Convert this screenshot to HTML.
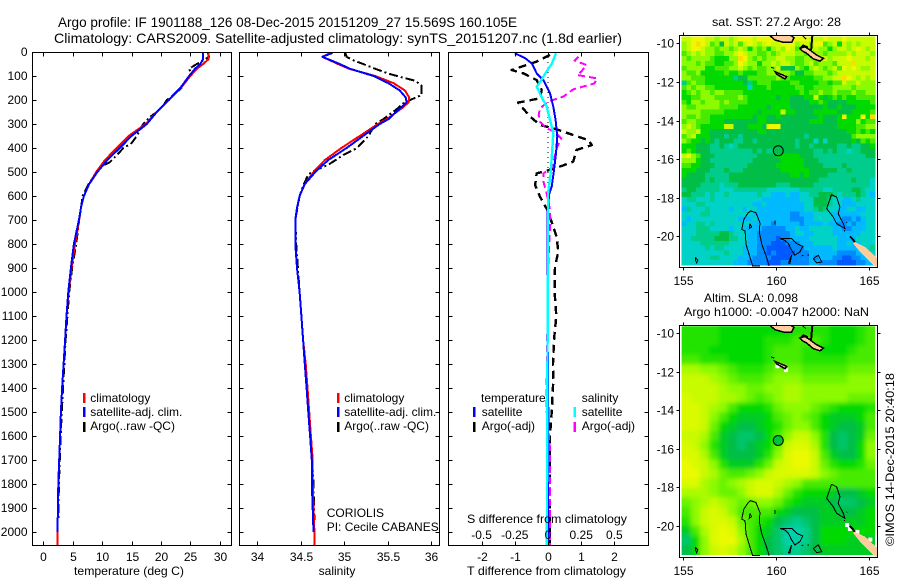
<!DOCTYPE html>
<html>
<head>
<meta charset="utf-8">
<title>Argo profile</title>
<style>
html,body{margin:0;padding:0;background:#fff;width:900px;height:580px;overflow:hidden}
svg{display:block}
text{font-family:"Liberation Sans",sans-serif;font-size:12px;fill:#000}
.title{font-size:14px}
.frame{fill:none;stroke:#000;stroke-width:1;shape-rendering:crispEdges}
.tick{stroke:#000;stroke-width:1;shape-rendering:crispEdges}
.curve{fill:none;stroke-linejoin:round;shape-rendering:crispEdges}
</style>
</head>
<body>
<svg id="chart" xmlns="http://www.w3.org/2000/svg" width="900" height="580" viewBox="0 0 900 580">
<defs>
<clipPath id="clip-temp"><rect x="32.5" y="52.5" width="199" height="493"/></clipPath>
<clipPath id="clip-sal"><rect x="239.5" y="52.5" width="200" height="493"/></clipPath>
<clipPath id="clip-diff"><rect x="448.5" y="52.5" width="200" height="493"/></clipPath>
<clipPath id="clip-sst"><rect x="680" y="35.5" width="197" height="231"/></clipPath>
<clipPath id="clip-sla"><rect x="680" y="325.5" width="197" height="231"/></clipPath>
<clipPath id="clip-sla-cells"><rect x="681.7" y="326" width="193.3" height="229"/></clipPath>
<filter id="soft" x="-5%" y="-5%" width="110%" height="110%"><feGaussianBlur stdDeviation="2.5"/></filter>
</defs>

<text class="title" x="58" y="27" textLength="459" lengthAdjust="spacingAndGlyphs">Argo profile: IF 1901188_126 08-Dec-2015 20151209_27 15.569S 160.105E</text>
<text class="title" x="54" y="43" textLength="568" lengthAdjust="spacingAndGlyphs">Climatology: CARS2009. Satellite-adjusted climatology: synTS_20151207.nc (1.8d earlier)</text>

<g id="panel-temp"></g>
<g id="panel-sal"></g>
<g id="panel-diff"></g>
<g id="map-sst"></g>
<g id="map-sla"></g>

<text x="74" y="575" textLength="110" lengthAdjust="spacingAndGlyphs">temperature (deg C)</text>
<text x="337" y="575" text-anchor="middle">salinity</text>
<text x="467" y="575" textLength="159" lengthAdjust="spacingAndGlyphs">T difference from climatology</text>
<text x="467" y="523" textLength="160" lengthAdjust="spacingAndGlyphs">S difference from climatology</text>

<g>
<rect x="83" y="393" width="2.5" height="10" fill="#f00"/>
<text x="90.3" y="402">climatology</text>
<rect x="83" y="407" width="2.5" height="10" fill="#00f"/>
<text x="90.3" y="416">satellite-adj. clim.</text>
<rect x="83" y="422" width="2.5" height="10" fill="#000"/>
<text x="90.3" y="430">Argo(..raw -QC)</text>
</g>
<g>
<rect x="337" y="393" width="2.5" height="10" fill="#f00"/>
<text x="344.3" y="402">climatology</text>
<rect x="337" y="407" width="2.5" height="10" fill="#00f"/>
<text x="344.3" y="416">satellite-adj. clim.</text>
<rect x="337" y="422" width="2.5" height="10" fill="#000"/>
<text x="344.3" y="430">Argo(..raw -QC)</text>
</g>
<text x="326.7" y="517">CORIOLIS</text>
<text x="326.7" y="531">PI: Cecile CABANES</text>
<g>
<text x="481" y="402">temperature</text>
<rect x="473" y="407" width="2.5" height="10" fill="#00f"/>
<text x="481.7" y="416">satellite</text>
<rect x="473" y="422" width="2.5" height="10" fill="#000"/>
<text x="481.7" y="430">Argo(-adj)</text>
<text x="581.7" y="402">salinity</text>
<rect x="573.5" y="407" width="2.5" height="10" fill="#0ff"/>
<text x="581.7" y="416">satellite</text>
<rect x="573.5" y="422" width="2.5" height="10" fill="#f0f"/>
<text x="581.7" y="430">Argo(-adj)</text>
</g>

<text x="712" y="26" textLength="129" lengthAdjust="spacingAndGlyphs">sat. SST: 27.2 Argo: 28</text>
<text x="704" y="302" textLength="94" lengthAdjust="spacingAndGlyphs">Altim. SLA: 0.098</text>
<text x="684" y="316" textLength="185" lengthAdjust="spacingAndGlyphs">Argo h1000: -0.0047 h2000: NaN</text>
<text transform="translate(894,546) rotate(-90)" textLength="173" lengthAdjust="spacingAndGlyphs">©IMOS 14-Dec-2015 20:40:18</text>
</svg>

<script>
// ---------- profile data ----------
const depthTicks = [0,100,200,300,400,500,600,700,800,900,1000,1100,1200,1300,1400,1500,1600,1700,1800,1900,2000];
const tempTicks = [0,5,10,15,20,25,30];
const salTicks = [34,34.5,35,35.5,36];
const salTickLabels = ['34','34.5','35','35.5','36'];
const diffTTicks = [-2,-1,0,1,2];
const diffTLabels = ['-2','-1','0','1','2'];
const diffSTicks = [-0.5,-0.25,0,0.25,0.5];
const diffSLabels = ['-0.5','-0.25','0','0.25','0.5'];

const climDepth = [0,30,50,70,100,150,200,250,300,350,400,450,500,550,600,650,700,800,900,1000,1100,1200,1300,1400,1500,1600,1700,1800,1900,2000,2054];
const tempClim = [28.1,28.1,27.2,26.1,25,23.4,21.4,19.3,17.4,14.5,12.5,10.5,9,7.8,6.9,6.4,6.1,5.4,4.8,4.3,3.95,3.7,3.45,3.2,3,2.85,2.7,2.55,2.5,2.4,2.4];
const tempSat = [27.2,27.2,26.7,25.8,24.8,23.3,21.3,19.3,17.6,15,13,10.9,9.2,7.8,6.9,6.4,6.05,5.2,4.7,4.25,3.95,3.7,3.45,3.2,3,2.85,2.7,2.55,2.5,2.4,2.4];
const argoTempDepth = [0,20,30,50,70,90,100,130,150,180,200,220,250,270,300,350,380,400,430,460,480,500,550,600,700,800,900,1000,1200,1400,1600,1800,1950];
const tempArgo = [27.9,28.2,27.5,26.1,24.8,25.2,25,23.9,23.5,22.1,21,20.5,19.3,18.2,17,15.9,15,13.6,12.5,11.3,9.6,9.1,7.7,6.7,6.1,5.6,4.9,4.4,3.8,3.35,2.95,2.65,2.55];

const salDepth = [0,5,20,50,70,100,130,160,190,210,230,280,300,350,400,450,500,550,600,650,700,800,900,1000,1100,1200,1300,1400,1500,1600,1700,1800,1900,2000,2054];
const salClim = [34.84,34.84,34.75,34.93,35.06,35.36,35.57,35.7,35.75,35.74,35.68,35.49,35.39,35.18,34.97,34.78,34.65,34.55,34.49,34.46,34.44,34.44,34.46,34.49,34.51,34.53,34.56,34.58,34.6,34.62,34.64,34.64,34.65,34.66,34.66];
const salSat = [34.86,34.86,34.75,34.95,35.07,35.34,35.51,35.64,35.71,35.72,35.66,35.51,35.41,35.22,35.03,34.82,34.67,34.55,34.49,34.46,34.44,34.44,34.46,34.49,34.51,34.53,34.55,34.57,34.59,34.61,34.63,34.63,34.64,34.65,34.65];
const argoSalDepth = [0,20,35,50,70,90,105,120,140,180,200,215,240,280,300,350,400,430,470,490,510,550,600,700,800,900,1000,1200,1400,1600,1800,1950];
const salArgo = [35.01,35.03,35.11,35.22,35.36,35.51,35.66,35.82,35.89,35.89,35.76,35.68,35.6,35.45,35.36,35.28,35.15,34.99,34.82,34.69,34.59,34.54,34.49,34.44,34.45,34.47,34.49,34.53,34.58,34.62,34.65,34.66];

const diffTSatDepth = [5,26,47,89,117,172,228,283,353,422,492,561,589,672,880,1040,1500,2054];
const diffTSat = [-1,-0.69,-0.49,-0.34,-0.14,0.06,0.16,0.23,0.28,0.24,0.18,0.11,0.04,-0.02,-0.02,-0.02,0.01,0];
const diffSSatDepth = [5,47,89,117,144,186,228,283,339,422,505,589,672,900,1400,2054];
const diffSSat = [0.06,0.03,-0.02,-0.05,-0.085,-0.05,-0.01,0.015,0.04,0.03,0.02,0,0,0,-0.005,-0.008];
const diffTArgoDepth = [12,40,75,89,117,158,193,211,269,304,318,346,367,388,408,457,485,506,554,603,658,728,769,832,894,1000,1100,1200,1300,1367,1500,1600,1700,2054];
const diffTArgo = [0.06,-0.34,-1.1,-0.74,-0.34,-0.19,-0.24,-0.9,-0.54,-0.24,0.16,0.76,1.22,1.32,0.86,0.76,0.21,-0.34,-0.39,-0.24,-0.02,0.16,0.26,0.31,0.21,0.2,0.25,0.18,0.15,0.16,0.11,0.06,0.06,0.06];
const diffSArgoDepth = [19,36,54,82,96,110,131,156,186,207,235,262,290,318,332,360,401,436,478,506,540,589,658,742,908,1367,1500,1650,2054];
const diffSArgo = [0.23,0.2,0.29,0.25,0.22,0.37,0.35,0.19,0.115,0,-0.06,-0.07,-0.06,-0.01,0.05,0.1,0.065,0.05,0.04,-0.035,-0.035,-0.01,0.015,0.015,0,-0.01,-0.01,0.015,0.015];

// ---------- map data (colour-scale level, north to south) ----------
const lonTicks = [155,160,165];
const latTicks = [-10,-12,-14,-16,-18,-20];
const sstCells = [
[9,9,10,10,10,9,9,8,9,9,8,9,10,10,10,9,10,10,10,10,10,10,10,10,10,10,10,9,9,9,10,9,9,9,10,9,9,9,9,9,9],
[8,9,10,11,10,9,7,8,5,9,8,9,7,9,10,9,8,9,10,9,9,10,10,10,8,9,9,8,10,10,7,8,9,6,9,8,9,8,9,9,9],
[8,9,10,10,9,8,8,7,8,8,7,8,9,8,6,8,7,8,6,8,9,8,10,9,7,8,8,8,9,8,8,6,8,9,9,8,9,10,9,8,9],
[7,8,9,8,9,8,8,7,7,8,8,9,10,9,8,8,7,7,8,7,8,9,9,9,8,8,7,8,8,8,7,8,8,8,8,9,8,9,9,9,8],
[8,7,8,8,8,8,7,6,6,6,8,8,11,10,8,7,8,7,8,8,9,9,8,8,7,7,8,8,8,9,9,8,9,9,9,10,9,9,9,8,9],
[8,8,8,7,8,7,7,6,6,7,7,8,10,9,8,8,6,8,8,9,8,9,9,8,7,7,8,9,7,8,8,8,7,9,9,9,11,9,9,9,9],
[7,8,8,8,8,6,6,7,7,7,8,8,9,8,7,8,7,7,8,8,9,5,5,5,8,7,6,8,9,8,7,8,9,7,10,9,10,9,8,8,9],
[8,7,7,8,6,6,6,6,6,7,6,6,7,6,6,6,7,7,8,8,8,8,8,7,5,5,7,7,8,8,8,7,8,9,9,9,9,9,9,9,9],
[8,8,7,7,7,6,6,6,6,6,6,4,5,5,7,7,7,7,7,7,8,7,7,6,6,6,6,6,7,7,8,8,9,9,11,10,9,8,9,8,9],
[4,7,8,7,7,6,6,6,6,6,6,6,6,5,4,6,7,7,7,6,6,6,6,7,7,6,6,6,6,7,7,6,7,7,9,8,8,9,8,8,8],
[7,8,7,8,8,7,7,6,6,6,6,6,6,6,3,6,6,6,7,6,6,6,6,6,7,7,6,6,7,7,7,7,8,8,8,8,7,8,8,8,8],
[6,7,8,7,8,8,7,8,8,7,7,7,7,6,6,6,6,6,6,6,6,6,6,6,6,7,6,7,7,8,7,7,8,7,7,7,8,7,7,8,8],
[6,6,7,7,8,8,8,7,7,7,7,7,8,7,6,6,6,6,6,6,5,6,6,5,5,5,6,6,9,6,5,6,7,6,7,6,6,7,7,7,7],
[7,6,8,8,7,8,8,8,7,8,7,7,7,7,6,6,6,6,6,6,6,6,6,5,5,5,5,6,6,7,6,5,5,5,5,6,6,6,6,6,7],
[8,7,7,8,8,8,8,8,7,7,7,7,6,6,6,6,6,6,5,6,6,6,6,5,5,5,5,5,5,5,6,5,5,6,5,5,5,6,6,6,6],
[8,8,8,8,7,7,7,7,7,6,6,6,6,6,6,6,5,6,6,6,6,9,6,6,5,5,5,5,6,6,6,6,6,5,5,5,6,6,6,6,7],
[8,7,7,8,7,7,6,6,6,6,6,6,6,6,6,5,6,6,5,5,6,5,5,5,5,5,5,5,5,6,5,5,5,6,10,6,6,6,10,6,11],
[7,8,8,7,7,7,6,6,6,5,5,5,5,5,5,5,6,6,5,5,5,5,5,5,5,5,5,6,6,6,5,5,5,6,6,6,6,8,6,7,7],
[8,9,8,7,6,6,6,6,6,9,9,5,5,5,6,6,6,5,10,10,10,5,5,5,5,5,5,5,5,5,5,5,5,6,6,6,6,7,7,8,8],
[9,8,8,9,6,6,5,5,5,5,5,5,5,5,5,5,6,6,5,5,5,5,5,5,5,5,5,5,5,5,5,5,5,5,5,6,6,7,6,7,6],
[7,8,9,6,6,6,5,5,5,4,5,5,4,5,5,5,5,5,5,5,5,5,5,5,5,5,4,5,5,5,5,5,5,5,5,5,7,8,8,8,8],
[8,7,6,6,5,6,5,4,5,5,5,4,4,5,5,4,5,5,5,5,5,5,5,5,4,5,5,5,3,5,3,5,5,5,5,5,6,5,7,6,7],
[6,6,6,5,5,5,4,4,5,4,3,4,5,5,5,5,5,5,5,5,5,5,5,5,4,5,5,4,5,5,5,5,5,4,4,5,4,4,5,5,6],
[6,7,6,5,5,5,4,4,4,4,4,4,4,4,4,5,4,5,4,4,5,5,5,5,5,5,5,5,4,4,5,4,5,4,4,3,4,4,5,5,5],
[9,10,8,7,5,5,5,4,4,4,4,4,4,4,4,4,5,5,5,5,6,6,6,6,6,5,5,5,4,4,4,4,4,4,4,4,4,4,4,5,5],
[8,8,8,6,5,5,4,4,4,4,4,4,4,4,4,5,5,5,5,5,5,6,6,6,6,6,5,5,5,4,4,4,4,4,4,4,4,4,4,4,4],
[7,7,6,6,5,5,5,4,4,4,4,4,4,4,5,5,5,5,5,5,6,6,6,6,6,6,5,5,5,5,4,4,4,4,5,4,4,4,4,4,4],
[6,6,6,5,5,5,4,4,4,5,4,4,4,5,5,5,5,5,5,5,5,6,6,6,6,6,6,5,5,5,5,5,5,4,4,5,4,4,4,4,4],
[6,5,5,5,5,4,4,4,4,4,5,5,5,5,5,5,5,5,5,5,5,5,5,6,6,5,6,5,5,5,5,4,4,4,4,4,4,4,4,4,4],
[5,5,5,5,5,4,5,4,4,4,5,5,5,5,5,5,5,5,5,5,5,5,5,5,5,5,5,5,5,4,4,4,4,4,4,4,5,4,4,4,3],
[5,5,5,5,4,4,4,4,3,4,4,4,5,5,5,5,5,5,5,5,4,4,4,5,5,5,5,5,4,4,4,4,4,4,4,4,4,4,4,4,3],
[4,5,5,4,4,4,4,4,3,3,3,4,4,4,4,4,4,4,3,3,3,3,3,3,3,4,4,4,4,4,3,3,4,4,4,4,5,5,4,3,3],
[5,5,4,4,4,3,4,3,3,4,3,3,3,3,3,3,4,3,3,2,2,2,3,2,2,3,3,4,4,5,5,5,4,3,4,4,4,5,4,3,2],
[3,4,4,3,3,3,4,3,3,3,3,3,3,3,3,3,3,2,2,2,2,2,2,2,2,3,3,3,5,5,5,4,3,3,2,2,3,4,3,3,3],
[3,3,3,4,4,3,3,3,3,3,3,3,3,3,3,2,2,3,2,2,2,2,2,2,2,2,3,3,5,5,5,4,3,3,2,2,2,3,3,3,3],
[2,4,3,3,3,4,3,3,3,3,2,3,3,2,3,3,2,2,2,2,2,2,2,2,2,2,3,3,4,5,4,3,3,2,2,3,3,2,2,3,3],
[3,3,3,3,4,4,3,3,3,3,3,3,3,3,3,2,2,2,2,2,2,2,2,1,1,2,2,2,3,3,3,3,2,2,2,2,2,2,3,3,3],
[3,2,3,3,3,3,3,3,3,3,3,3,2,2,2,3,2,2,2,2,2,2,2,1,1,1,2,2,3,3,3,3,2,2,1,1,2,1,2,3,3],
[2,3,3,4,4,3,4,3,3,3,3,3,3,3,3,2,2,2,2,1,2,2,2,2,2,1,2,2,2,2,3,2,2,1,1,2,1,2,2,3,3],
[3,3,3,4,4,4,3,3,3,3,2,3,3,2,2,2,2,1,1,1,1,1,2,2,3,2,2,3,3,3,3,3,2,2,1,1,2,2,2,3,3],
[3,3,3,4,4,4,4,4,5,5,4,3,3,3,2,2,1,1,1,1,1,1,1,2,3,3,2,2,3,3,3,3,2,2,2,2,2,2,3,3,3],
[3,3,4,4,4,4,4,5,5,5,4,4,3,3,2,2,1,1,1,1,0,1,1,2,2,2,2,3,3,3,3,3,3,2,2,2,2,3,3,3,3],
[3,3,3,3,4,4,4,4,4,4,3,3,3,3,2,2,1,1,1,0,0,0,1,1,1,2,2,2,3,3,3,3,3,2,2,3,2,2,3,3,3],
[3,3,3,3,3,4,3,4,4,3,3,3,3,2,2,2,1,1,0,0,0,0,0,1,1,1,2,2,2,2,2,2,3,2,2,2,2,2,3,3,4],
[3,3,3,3,3,3,3,3,3,4,3,3,3,2,2,2,1,1,0,1,0,0,0,0,1,1,1,2,2,2,2,2,2,1,1,1,1,2,2,3,3],
[3,3,3,3,3,3,4,4,3,3,3,3,2,2,2,1,1,1,1,0,0,0,0,1,1,1,1,2,1,2,2,2,1,1,0,0,1,1,2,2,3],
[3,3,3,3,3,3,3,3,3,3,3,2,2,2,1,1,1,1,0,0,0,1,1,1,1,1,1,2,2,1,1,1,1,0,0,0,0,1,1,2,2]
];
const slaCells = [
[6.5,6.5,6.5,6.5,6,6,6,6,6,6,6,6,6.5,6.5,6.5,6.5,6,6,6,6.5,7],
[6.5,6.5,6.5,6.5,6,6,6,6,6,6.5,6.5,6.5,7,7,7,6.5,6,6,6,6.5,7],
[6.5,6.5,6.5,6,6,6,6,6,6,6.5,7,7,7,6.5,6.5,6,6,6,6.5,7,7],
[7,7,6.5,6.5,6.5,6,6,6,6,6.5,7,7,7,6.5,6.5,6.5,6.5,6.5,7,7,7],
[8.5,8.5,8,8,7.5,7,6.5,6.5,6.5,7,7.5,7.5,7.5,7,7,7,7,7,7.5,7.5,7.5],
[9,9,9,8.5,8,7.5,7,7,7,7.5,8,8,8,7.5,7.5,7.5,7.5,7.5,8,8,8],
[9,9,9,9,8.5,8,8,7.5,7.5,8,8,8.5,8.5,8,8,8,8,8,8,8,8],
[9.5,9,9,9,8.5,8.5,8,7.5,7,7.5,8,8.5,8.5,8,8,8,8,8,7.5,7.5,7.5],
[9.5,9.5,9,8.5,8,7,6,6,6,6.5,7.5,8,8,8,7.5,7,6.5,6,6,6,6.5],
[9.5,9.5,9,8,7,6,5.5,5.5,5.5,6,7,7.5,8,7.5,7,6,5.5,5.5,5.5,6,7],
[9.5,9.5,9,7.5,6,5.5,5,5,5.5,6,6.5,7.5,8,8,7,6,5.5,5,5,5.5,7],
[9,9,8.5,7,5.5,5,4.5,4.5,5,6,7,8,9,9,8,6.5,5,4.5,5,5.5,7.5],
[9.5,9,8,6.5,5.5,5,4.5,5,5.5,6,7.5,9,9.5,9.5,8.5,6.5,5,4.5,5,6,8],
[9.5,9.5,8.5,7,5.5,5,5,5,5.5,6.5,8,9.5,10,10,9,7,5.5,5,5,6,8],
[10,9.5,9,8,6.5,5.5,5.5,5.5,6.5,7.5,9,9.5,10,10,9,7.5,6.5,6,6,6.5,7.5],
[10,10,9,8.5,7.5,7,7,7.5,8,9,9.5,9.5,9.5,9.5,9,8,7.5,7,7,7,7],
[9.5,9.5,8.5,8,7.5,8,8.5,9,9.5,9.5,9,8.5,8,7,7,7,7,7,7,7,7],
[8.5,8.5,8.5,8,7.5,7.5,8,9,9.5,9.5,8.5,7.5,6.5,6,6,6,5.5,5,5,5.5,6],
[7.5,8,8.5,9,8.5,8,7.5,7.5,8,8,7.5,6.5,6,5.5,5.5,5.5,5,4.5,4.5,5,5.5],
[7,8,9,9.5,9,8,7,7,7,7,6,5.5,5,5,5,5.5,5.5,5,5,5.5,6],
[6.5,8,9,9.5,9.5,9,7.5,7,6.5,6,5,4.5,4,4.5,5,5.5,5.5,5.5,5.5,5.5,6],
[5.5,7,8.5,9.5,10,9.5,8,7,6,5.5,4.5,3.5,3.5,4,5,6,6,6,6,6,6],
[4.5,6,8,9.5,10,10,8.5,7,6,5,4.5,3.5,3.5,4,5,6,6,6,5.5,5.5,5.5],
[5,6,8,9,9.5,9,8,7,6,5,4.5,4,4,4.5,5,5.5,5.5,5.5,5.5,5.5,5.5]
];
const landPolygons = [
[[159.62,-9.57],[159.93,-9.83],[160.38,-9.95],[160.83,-9.95],[160.95,-9.71],[160.74,-9.57]],
[[161.27,-10.26],[161.54,-10.18],[161.81,-10.35],[162.17,-10.61],[162.53,-10.78],[162.35,-10.92],[161.99,-10.81],[161.63,-10.52],[161.37,-10.38]],
[[159.93,-11.47],[160.56,-11.73],[160.47,-11.85],[160.02,-11.6]]
];
const mainlandPolygon = [[164.23,-20.3],[164.77,-20.55],[165.41,-21.12],[165.41,-21.59],[165.31,-21.59],[165.04,-21.33],[164.5,-20.81],[164.12,-20.35]];
const reefOutlines = [
[[158.62,-18.69],[158.91,-18.78],[159.12,-19.3],[159.09,-19.81],[159.22,-20.41],[159.45,-21.02],[159.62,-21.54]],
[[159.12,-21.54],[158.73,-21.54],[158.59,-21.11],[158.37,-20.41],[158.32,-19.73],[158.14,-19.64],[158.26,-19.12],[158.49,-18.78],[158.62,-18.69]],
[[158.58,-19.34],[158.67,-19.52],[158.55,-19.6],[158.58,-19.34]],
[[159.93,-19.17],[159.93,-19.38]],
[[160.2,-20.12],[160.82,-20.12],[161.09,-20.38],[161.42,-20.52],[161.27,-20.81],[161,-20.98],[160.82,-20.72],[160.65,-20.38],[160.47,-20.21],[160.2,-20.12]],
[[160.65,-21.41],[160.82,-20.98],[160.73,-21.41],[160.65,-21.41]],
[[155.65,-21.1],[155.78,-21.24],[155.72,-21.38],[155.65,-21.24],[155.65,-21.1]],
[[161.36,-21.02],[161.45,-20.98]],
[[161.68,-20.98],[161.75,-20.98]],
[[161.99,-21.16],[162.26,-20.98],[162.44,-21.33],[162.17,-21.38],[161.99,-21.16]],
[[162.97,-17.84],[163.24,-17.97],[163.42,-18.48],[163.33,-18.83],[163.6,-19.34],[163.69,-19.6],[163.24,-19.34],[163.06,-19],[162.71,-18.57],[162.89,-18.05],[162.97,-17.84]],
[[163.78,-19.26],[163.8,-19.3]],
[[163.66,-19.69],[163.68,-19.74]],
[[159.71,-11.24],[159.89,-11.3]],
[[161.37,-9.57],[161.6,-9.78]]
];
const heavyReefOutlines = [
[[163.95,-20],[164.12,-20.16],[164.22,-20.3]],
[[161.94,-9.57],[161.87,-10.35]],
[[161.3,-10.26],[161.45,-10.12],[161.7,-10.22]]
];
const slaDataGaps = [[163.7,-19.85],[163.85,-20.05],[164.25,-20.2],[164.95,-20.6],[159.95,-11.62],[160.42,-11.82],[161.3,-10.18]];
const argoFloat = [160.105,-15.569];
const argoSstLevel = [5];
const argoSlaLevel = [5.2];

// ---------- axis functions ----------
const yDepth = d => 52 + d * 0.24;
const xTemp = t => 43.3 + t * 5.88;
const xSal = s => 257 + (s - 34) * 87;
const xDiffT = t => 548 + t * 33.2;
const xDiffS = s => xDiffT(s * 4);
const xLon = lon => 683.3 + (lon - 155) * 18.6;
const ySstLat = lat => 43.3 + (-10 - lat) * 19.3;
const ySlaLat = lat => 333 + (-10 - lat) * 19.3;

const levelColours = [[0,90,255],[0,140,255],[0,185,255],[0,210,200],[0,205,140],[0,190,70],[0,218,0],[70,235,0],[140,250,0],[200,250,0],[235,250,0],[255,220,0]];
function levelColour(v){
  const i = Math.max(0, Math.min(levelColours.length - 2, Math.floor(v)));
  const f = Math.max(0, Math.min(1, v - i));
  const a = levelColours[i], b = levelColours[i + 1];
  return 'rgb(' + a.map((c, k) => Math.round(c + (b[k] - c) * f)).join(',') + ')';
}

const NS = 'http://www.w3.org/2000/svg';
function make(parent, tag, attrs, text){
  const el = document.createElementNS(NS, tag);
  for (const k in attrs) el.setAttribute(k, attrs[k]);
  if (text !== undefined) el.textContent = text;
  parent.appendChild(el);
  return el;
}
function pathFrom(xs, ys, xFn, yFn){
  return xs.map((v, i) => (i ? 'L' : 'M') + xFn(v).toFixed(1) + ' ' + yFn(ys[i]).toFixed(1)).join('');
}

function drawCurve(parent, name, values, depths, xFn, colour, width, dash){
  const attrs = {class:'curve', d:pathFrom(values, depths, xFn, yDepth), stroke:colour, 'stroke-width':width};
  if (dash) attrs['stroke-dasharray'] = dash;
  const p = make(parent, 'path', attrs);
  
  
  return p;
}

function drawFrame(parent, name, x0, y0, x1, y1){
  const f = make(parent, 'rect', {class:'frame', x:x0, y:y0, width:x1 - x0, height:y1 - y0});
  
  
}

function drawTick(parent, name, x1, y1, x2, y2){
  const t = make(parent, 'line', {class:'tick', x1:x1, y1:y1, x2:x2, y2:y2});
  
  
}

function drawLabel(parent, name, x, y, anchor, str){
  const l = make(parent, 'text', {x:x, y:y, 'text-anchor':anchor}, str);
  
  
}

function drawPanelAxes(parent, name, x0, x1, xTicks, xFn, xLabels, withDepthLabels){
  const y0 = 52.5, y1 = 545.5;
  depthTicks.forEach(d => {
    const y = Math.floor(yDepth(d)) + 0.5;
    drawTick(parent, 'y-tick', x0, y, x0 + 4, y);
    drawTick(parent, 'y-tick', x1 - 4, y, x1, y);
    if (withDepthLabels) {
      drawLabel(parent, 'depth-tick-label', 27.5, y + 3.5, 'end', String(d));
    }
  });
  xTicks.forEach((v, i) => {
    const x = Math.round(xFn(v)) + 0.5;
    drawTick(parent, 'x-tick', x, y1 - 4, x, y1);
    drawTick(parent, 'x-tick', x, y0, x, y0 + 4);
    drawLabel(parent, 'x-tick-label', x, 561, 'middle', xLabels[i]);
  });
  drawFrame(parent, name, x0, y0, x1, y1);
}

// ---------- temperature ----------
const gT = document.getElementById('panel-temp');
const gTc = make(gT, 'g', {'clip-path':'url(#clip-temp)'});
drawCurve(gTc, 'argo-temperature-line', tempArgo, argoTempDepth, xTemp, '#000', 2, '9 3 2 3');
drawCurve(gTc, 'climatology-temperature-line', tempClim, climDepth, xTemp, '#f00', 2);
drawCurve(gTc, 'satellite-temperature-line', tempSat.slice(0, -1), climDepth.slice(0, -1), xTemp, '#00f', 2);
drawPanelAxes(gT, 'temperature', 32.5, 231.5, tempTicks, xTemp, tempTicks.map(String), true);

// ---------- salinity ----------
const gS = document.getElementById('panel-sal');
const gSc = make(gS, 'g', {'clip-path':'url(#clip-sal)'});
drawCurve(gSc, 'argo-salinity-line', salArgo, argoSalDepth, xSal, '#000', 2, '9 3 2 3');
drawCurve(gSc, 'climatology-salinity-line', salClim, salDepth, xSal, '#f00', 2);
drawCurve(gSc, 'satellite-salinity-line', salSat.slice(0, -1), salDepth.slice(0, -1), xSal, '#00f', 2);
drawPanelAxes(gS, 'salinity', 239.5, 439.5, salTicks, xSal, salTickLabels, false);

// ---------- differences ----------
const gD = document.getElementById('panel-diff');
const gDc = make(gD, 'g', {'clip-path':'url(#clip-diff)'});
const zeroLine = make(gDc, 'line', {x1:xDiffT(0), x2:xDiffT(0), y1:yDepth(0), y2:yDepth(800), stroke:'#000', 'stroke-width':1, 'stroke-dasharray':'1 4'});


drawCurve(gDc, 't-argo-difference-line', diffTArgo, diffTArgoDepth, xDiffT, '#000', 2.4, '8 5');
drawCurve(gDc, 's-argo-difference-line', diffSArgo, diffSArgoDepth, xDiffS, '#f0f', 2, '7 4');
drawCurve(gDc, 't-satellite-difference-line', diffTSat, diffTSatDepth, xDiffT, '#00f', 2);
drawCurve(gDc, 's-satellite-difference-line', diffSSat, diffSSatDepth, xDiffS, '#0ff', 2.4);
drawPanelAxes(gD, 'difference', 448.5, 648.5, diffTTicks, xDiffT, diffTLabels, false);
diffSTicks.forEach((v, i) => {
  drawLabel(gD, 's-difference-tick-label', xDiffS(v), 539, 'middle', diffSLabels[i]);
});

// ---------- maps ----------
const cellLonStart = 154.91, cellLonEnd = 165.3;
const cellLatStart = -9.653, cellLatEnd = -21.49;

function drawMap(parent, name, cells, yLat, clipId, x0, y0, x1, y1, smooth, markerLevel){
  const lonStep = (cellLonEnd - cellLonStart) / cells[0].length;
  const latStep = (cellLatEnd - cellLatStart) / cells.length;
  const clipped = make(parent, 'g', {'clip-path':'url(#' + clipId + ')'});
  const cellClip = make(clipped, 'g', smooth ? {'clip-path':'url(#clip-sla-cells)'} : {});
  const layer = make(cellClip, 'g', {id:name + '-cells', 'shape-rendering':'crispEdges'});
  
  
  cells.forEach((row, r) => row.forEach((v, c) => {
    const lx = xLon(cellLonStart + c * lonStep), rx = xLon(cellLonStart + (c + 1) * lonStep);
    const ty = yLat(cellLatStart + r * latStep), by = yLat(cellLatStart + (r + 1) * latStep);
    const cell = make(layer, 'rect', {x:lx.toFixed(1), y:ty.toFixed(1), width:(rx - lx + 0.4).toFixed(1), height:(by - ty + 0.4).toFixed(1), fill:levelColour(v)});
    
    
  }));
  if (smooth) {
    const u = make(cellClip, 'use', {href:'#' + name + '-cells', filter:'url(#soft)'});
    
    
    slaDataGaps.forEach(g => {
      const gap = make(clipped, 'rect', {x:xLon(g[0]), y:yLat(g[1]), width:4, height:4, fill:'#fff'});
      
      
    });
  }
  landPolygons.forEach(poly => {
    const d = pathFrom(poly.map(p => p[0]), poly.map(p => p[1]), xLon, yLat) + 'Z';
    const land = make(clipped, 'path', {d:d, fill:'#ffcd9b', stroke:'#000', 'stroke-width':1.5, 'shape-rendering':'crispEdges'});
    
    
  });
  const mainland = make(clipped, 'path', {d:pathFrom(mainlandPolygon.map(p => p[0]), mainlandPolygon.map(p => p[1]), xLon, yLat) + 'Z', fill:'#ffcd9b', 'shape-rendering':'crispEdges'});
  
  
  reefOutlines.forEach(line => {
    const d = pathFrom(line.map(p => p[0]), line.map(p => p[1]), xLon, yLat);
    const reef = make(clipped, 'path', {d:d, fill:'none', stroke:'#000', 'stroke-width':1, 'shape-rendering':'crispEdges'});
    
    
  });
  heavyReefOutlines.forEach(line => {
    const d = pathFrom(line.map(p => p[0]), line.map(p => p[1]), xLon, yLat);
    const reef = make(clipped, 'path', {d:d, fill:'none', stroke:'#000', 'stroke-width':2, 'shape-rendering':'crispEdges'});
    
    
  });
  const marker = make(clipped, 'circle', {cx:xLon(argoFloat[0]), cy:yLat(argoFloat[1]), r:5, fill:levelColour(markerLevel), stroke:'#000', 'stroke-width':1});
  
  
  lonTicks.forEach(lon => {
    const x = Math.round(xLon(lon)) + 0.5;
    drawTick(parent, 'lon-tick', x, y0 - 3, x, y0);
    drawTick(parent, 'lon-tick', x, y1, x, y1 + 3);
    drawLabel(parent, 'lon-tick-label', x, y1 + 17.5, 'middle', String(lon));
  });
  latTicks.forEach(lat => {
    const y = Math.round(yLat(lat)) + 0.5;
    drawTick(parent, 'lat-tick', x0 - 3, y, x0, y);
    drawTick(parent, 'lat-tick', x1, y, x1 + 3, y);
    drawLabel(parent, 'lat-tick-label', 674, y + 4, 'end', String(lat));
  });
  drawFrame(parent, name, x0, y0, x1, y1);
}

drawMap(document.getElementById('map-sst'), 'sst', sstCells, ySstLat, 'clip-sst', 679.5, 35.5, 877.5, 267.5, false, argoSstLevel[0]);
drawMap(document.getElementById('map-sla'), 'sla', slaCells, ySlaLat, 'clip-sla', 679.5, 325.5, 877.5, 557.5, true, argoSlaLevel[0]);
</script>
</body>
</html>
